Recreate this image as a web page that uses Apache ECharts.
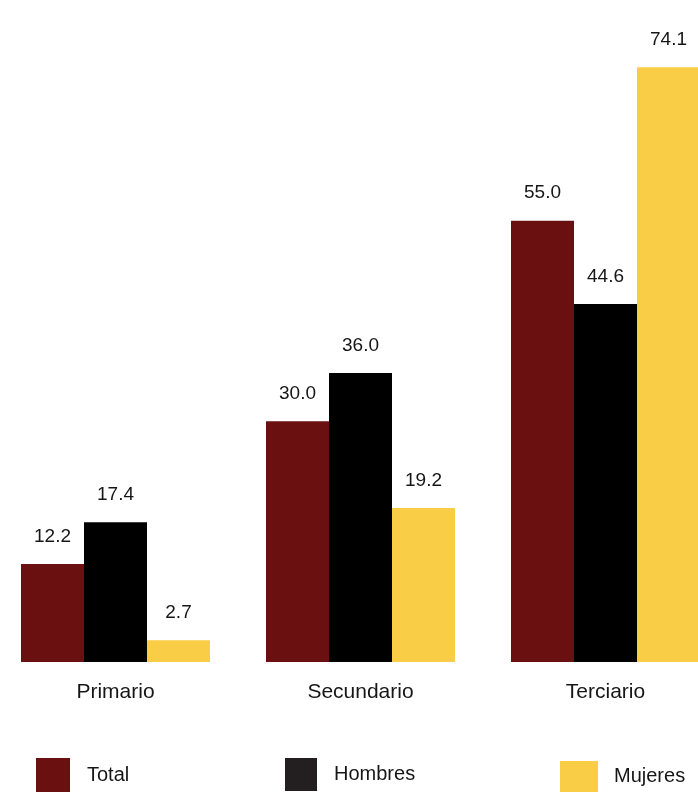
<!DOCTYPE html>
<html>
<head>
<meta charset="utf-8">
<script src="https://cdn.jsdelivr.net/npm/echarts@6/dist/echarts.min.js"></script>
<style>html,body{margin:0;padding:0;background:#fff;}#c{width:698px;height:792px;}</style>
</head>
<body>
<div id="c"></div>
<script>
const categories = ['Primario', 'Secundario', 'Terciario'];
const seriesNames = ['Total', 'Hombres', 'Mujeres'];
const totalValues = [12.2, 30.0, 55.0];
const hombresValues = [17.4, 36.0, 44.6];
const mujeresValues = [2.7, 19.2, 74.1];

const colors = { Total: '#6A1010', Hombres: '#000000', Mujeres: '#FACD46' };
const legendColors = { Total: '#6A1010', Hombres: '#231F20', Mujeres: '#FACD46' };
const FONT = '"Liberation Sans", Arial, Helvetica, sans-serif';
const TEXT = '#161616';

const chart = echarts.init(document.getElementById('c'), null, { renderer: 'canvas' });

function mkSeries(name, data) {
  return {
    name: name,
    type: 'bar',
    data: data,
    barWidth: 63,
    barGap: '0%',
    itemStyle: { color: colors[name] },
    label: {
      show: true,
      position: 'top',
      distance: 18,
      fontFamily: FONT,
      fontSize: 19,
      color: TEXT,
      formatter: p => Number(p.value).toFixed(1)
    },
    emphasis: { disabled: true },
    animation: false
  };
}

function mkLegend(name, left, top, w, h, pad) {
  return {
    data: [{ name: name, itemStyle: { color: legendColors[name] } }],
    left: left,
    top: top,
    padding: 0,
    itemWidth: w,
    itemHeight: h,
    icon: 'rect',
    selectedMode: false,
    textStyle: { fontFamily: FONT, fontSize: 20, color: TEXT, padding: [0, 0, 0, pad] }
  };
}

chart.setOption({
  animation: false,
  backgroundColor: '#ffffff',
  grid: { left: -7, right: -30, top: 20, height: 642, containLabel: false, outerBoundsMode: 'none' },
  xAxis: {
    type: 'category',
    data: categories,
    axisLine: { show: false },
    axisTick: { show: false },
    axisLabel: { fontFamily: FONT, fontSize: 21, color: TEXT, margin: 20 }
  },
  yAxis: {
    type: 'value',
    min: 0,
    max: 80,
    show: false,
    splitLine: { show: false }
  },
  legend: [
    mkLegend('Total', 36, 758, 34, 34, 12),
    mkLegend('Hombres', 285, 758, 32, 33, 12),
    mkLegend('Mujeres', 560, 761, 38, 31, 11)
  ],
  series: [
    mkSeries('Total', totalValues),
    mkSeries('Hombres', hombresValues),
    mkSeries('Mujeres', mujeresValues)
  ]
});
</script>
</body>
</html>
